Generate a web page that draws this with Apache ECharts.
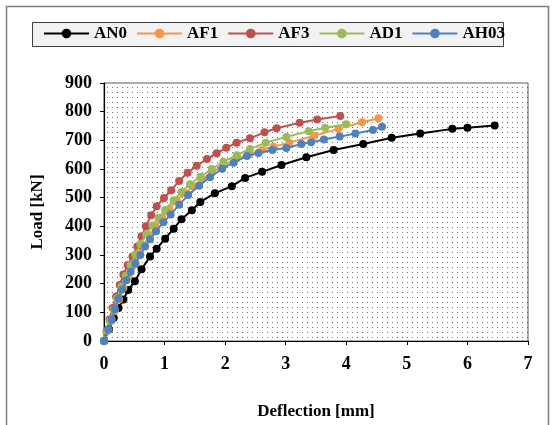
<!DOCTYPE html>
<html>
<head>
<meta charset="utf-8">
<title>Load - Deflection</title>
<script src="https://cdn.jsdelivr.net/npm/echarts@6/dist/echarts.min.js"></script>
<style>
  html, body { margin: 0; padding: 0; background: #fff; }
  #main { width: 552px; height: 425px; }
</style>
</head>
<body>
<div id="main"></div>
<script>
// series names
var seriesNames = ['AN0', 'AF1', 'AF3', 'AD1', 'AH03'];

// [deflection mm, load kN]
var an0 = [[0,0],[0.08,40],[0.16,80],[0.24,115],[0.32,145],[0.40,178],[0.51,208],[0.62,250],[0.76,295],[0.87,322],[1.01,357],[1.15,392],[1.28,425],[1.45,456],[1.59,485],[1.83,515],[2.11,540],[2.33,569],[2.61,590],[2.93,614],[3.34,641],[3.79,666],[4.28,687],[4.75,709],[5.22,724],[5.75,740],[6.00,744],[6.45,752]];
var af1 = [[0,0],[0.06,35],[0.12,70],[0.18,105],[0.25,145],[0.32,185],[0.40,225],[0.48,262],[0.56,298],[0.65,333],[0.75,368],[0.85,400],[0.96,430],[1.08,460],[1.20,490],[1.33,515],[1.47,540],[1.62,565],[1.78,588],[1.97,612],[2.19,637],[2.40,652],[2.61,666],[2.80,678],[3.06,692],[3.47,716],[3.87,740],[4.26,763],[4.53,777]];
var af3 = [[0,0],[0.04,35],[0.09,75],[0.14,115],[0.20,155],[0.26,195],[0.32,232],[0.39,265],[0.47,295],[0.55,330],[0.62,365],[0.69,400],[0.78,439],[0.87,470],[0.99,499],[1.11,526],[1.24,558],[1.38,587],[1.53,611],[1.70,635],[1.86,655],[2.02,674],[2.19,692],[2.41,707],[2.65,728],[2.85,742],[3.23,761],[3.52,773],[3.90,785]];
var ad1 = [[0,0],[0.05,35],[0.10,70],[0.16,110],[0.22,150],[0.29,190],[0.36,228],[0.44,265],[0.52,302],[0.60,338],[0.70,372],[0.80,403],[0.90,430],[1.01,457],[1.15,491],[1.28,520],[1.42,547],[1.59,573],[1.78,600],[1.97,625],[2.19,648],[2.41,670],[2.67,692],[3.01,712],[3.38,732],[3.65,744],[4.00,756]];
var ah03 = [[0,0],[0.07,41],[0.13,75],[0.18,112],[0.24,148],[0.30,180],[0.37,212],[0.44,242],[0.52,270],[0.60,300],[0.68,330],[0.76,355],[0.86,383],[0.98,414],[1.10,441],[1.24,475],[1.39,509],[1.57,542],[1.75,571],[1.95,601],[2.14,622],[2.36,645],[2.55,656],[2.78,666],[3.01,673],[3.26,687],[3.42,693],[3.63,703],[3.89,713],[4.15,724],[4.44,736],[4.59,747]];
var seriesData = [an0, af1, af3, ad1, ah03];

var colors = ['#000000', '#f79646', '#c0504d', '#9bbb59', '#4f81bd'];

//点状底纹
var tile = document.createElement('canvas');
tile.width = 5;
tile.height = 5;
var tctx = tile.getContext('2d');
tctx.fillStyle = '#ffffff';
tctx.fillRect(0, 0, 5, 5);
tctx.fillStyle = '#6e6e6e';
tctx.fillRect(2, 2, 1, 1);

var font = '"Liberation Serif", "Times New Roman", serif';

var chart = echarts.init(document.getElementById('main'), null, {renderer: 'canvas'});

var option = {
  backgroundColor: '#ffffff',
  animation: false,
  color: colors,
  graphic: [{
    type: 'rect',
    z: -10,
    shape: {x: 6.5, y: 6.5, width: 542, height: 440},
    style: {fill: '#ffffff', stroke: '#7f7f7f', lineWidth: 1.5}
  }, {
    type: 'rect',
    z: -5,
    shape: {x: 32.5, y: 22.5, width: 471, height: 24},
    style: {fill: '#f2f2f2', stroke: '#404040', lineWidth: 1}
  }],
  legend: {
    left: 43,
    top: 25,
    padding: 0,
    itemWidth: 45,
    itemHeight: 12,
    itemGap: 9,
    textStyle: {fontFamily: font, fontWeight: 'bold', fontSize: 17, color: '#000'},
    data: seriesNames
  },
  grid: {
    left: 104,
    right: 24,
    top: 83,
    bottom: 84,
    show: true,
    backgroundColor: {image: tile, repeat: 'repeat'},
    borderColor: '#595959',
    borderWidth: 1
  },
  xAxis: {
    type: 'value',
    min: 0,
    max: 7,
    interval: 1,
    name: 'Deflection [mm]',
    nameLocation: 'middle',
    nameGap: 62,
    nameTextStyle: {fontFamily: font, fontWeight: 'bold', fontSize: 17, color: '#000'},
    axisLine: {show: true, onZero: false, lineStyle: {color: '#000', width: 1.2}},
    axisTick: {show: true, inside: false, length: 4, lineStyle: {color: '#000'}},
    axisLabel: {fontFamily: font, fontWeight: 'bold', fontSize: 18, color: '#000', margin: 14},
    splitLine: {show: false}
  },
  yAxis: {
    type: 'value',
    min: 0,
    max: 900,
    interval: 100,
    name: 'Load [kN]',
    nameLocation: 'middle',
    nameGap: 58,
    nameTextStyle: {fontFamily: font, fontWeight: 'bold', fontSize: 17, color: '#000'},
    axisLine: {show: true, lineStyle: {color: '#000', width: 1.2}},
    axisTick: {show: true, inside: false, length: 4, lineStyle: {color: '#000'}},
    axisLabel: {fontFamily: font, fontWeight: 'bold', fontSize: 18, color: '#000', margin: 12},
    splitLine: {show: false}
  },
  series: seriesNames.map(function(name, i){
    return {
      name: name,
      type: 'line',
      data: seriesData[i],
      symbol: 'circle',
      symbolSize: 8,
      showSymbol: true,
      lineStyle: {width: 2, color: colors[i]},
      itemStyle: {color: colors[i]},
      z: 2 + i
    };
  })
};

chart.setOption(option);
</script>
</body>
</html>
